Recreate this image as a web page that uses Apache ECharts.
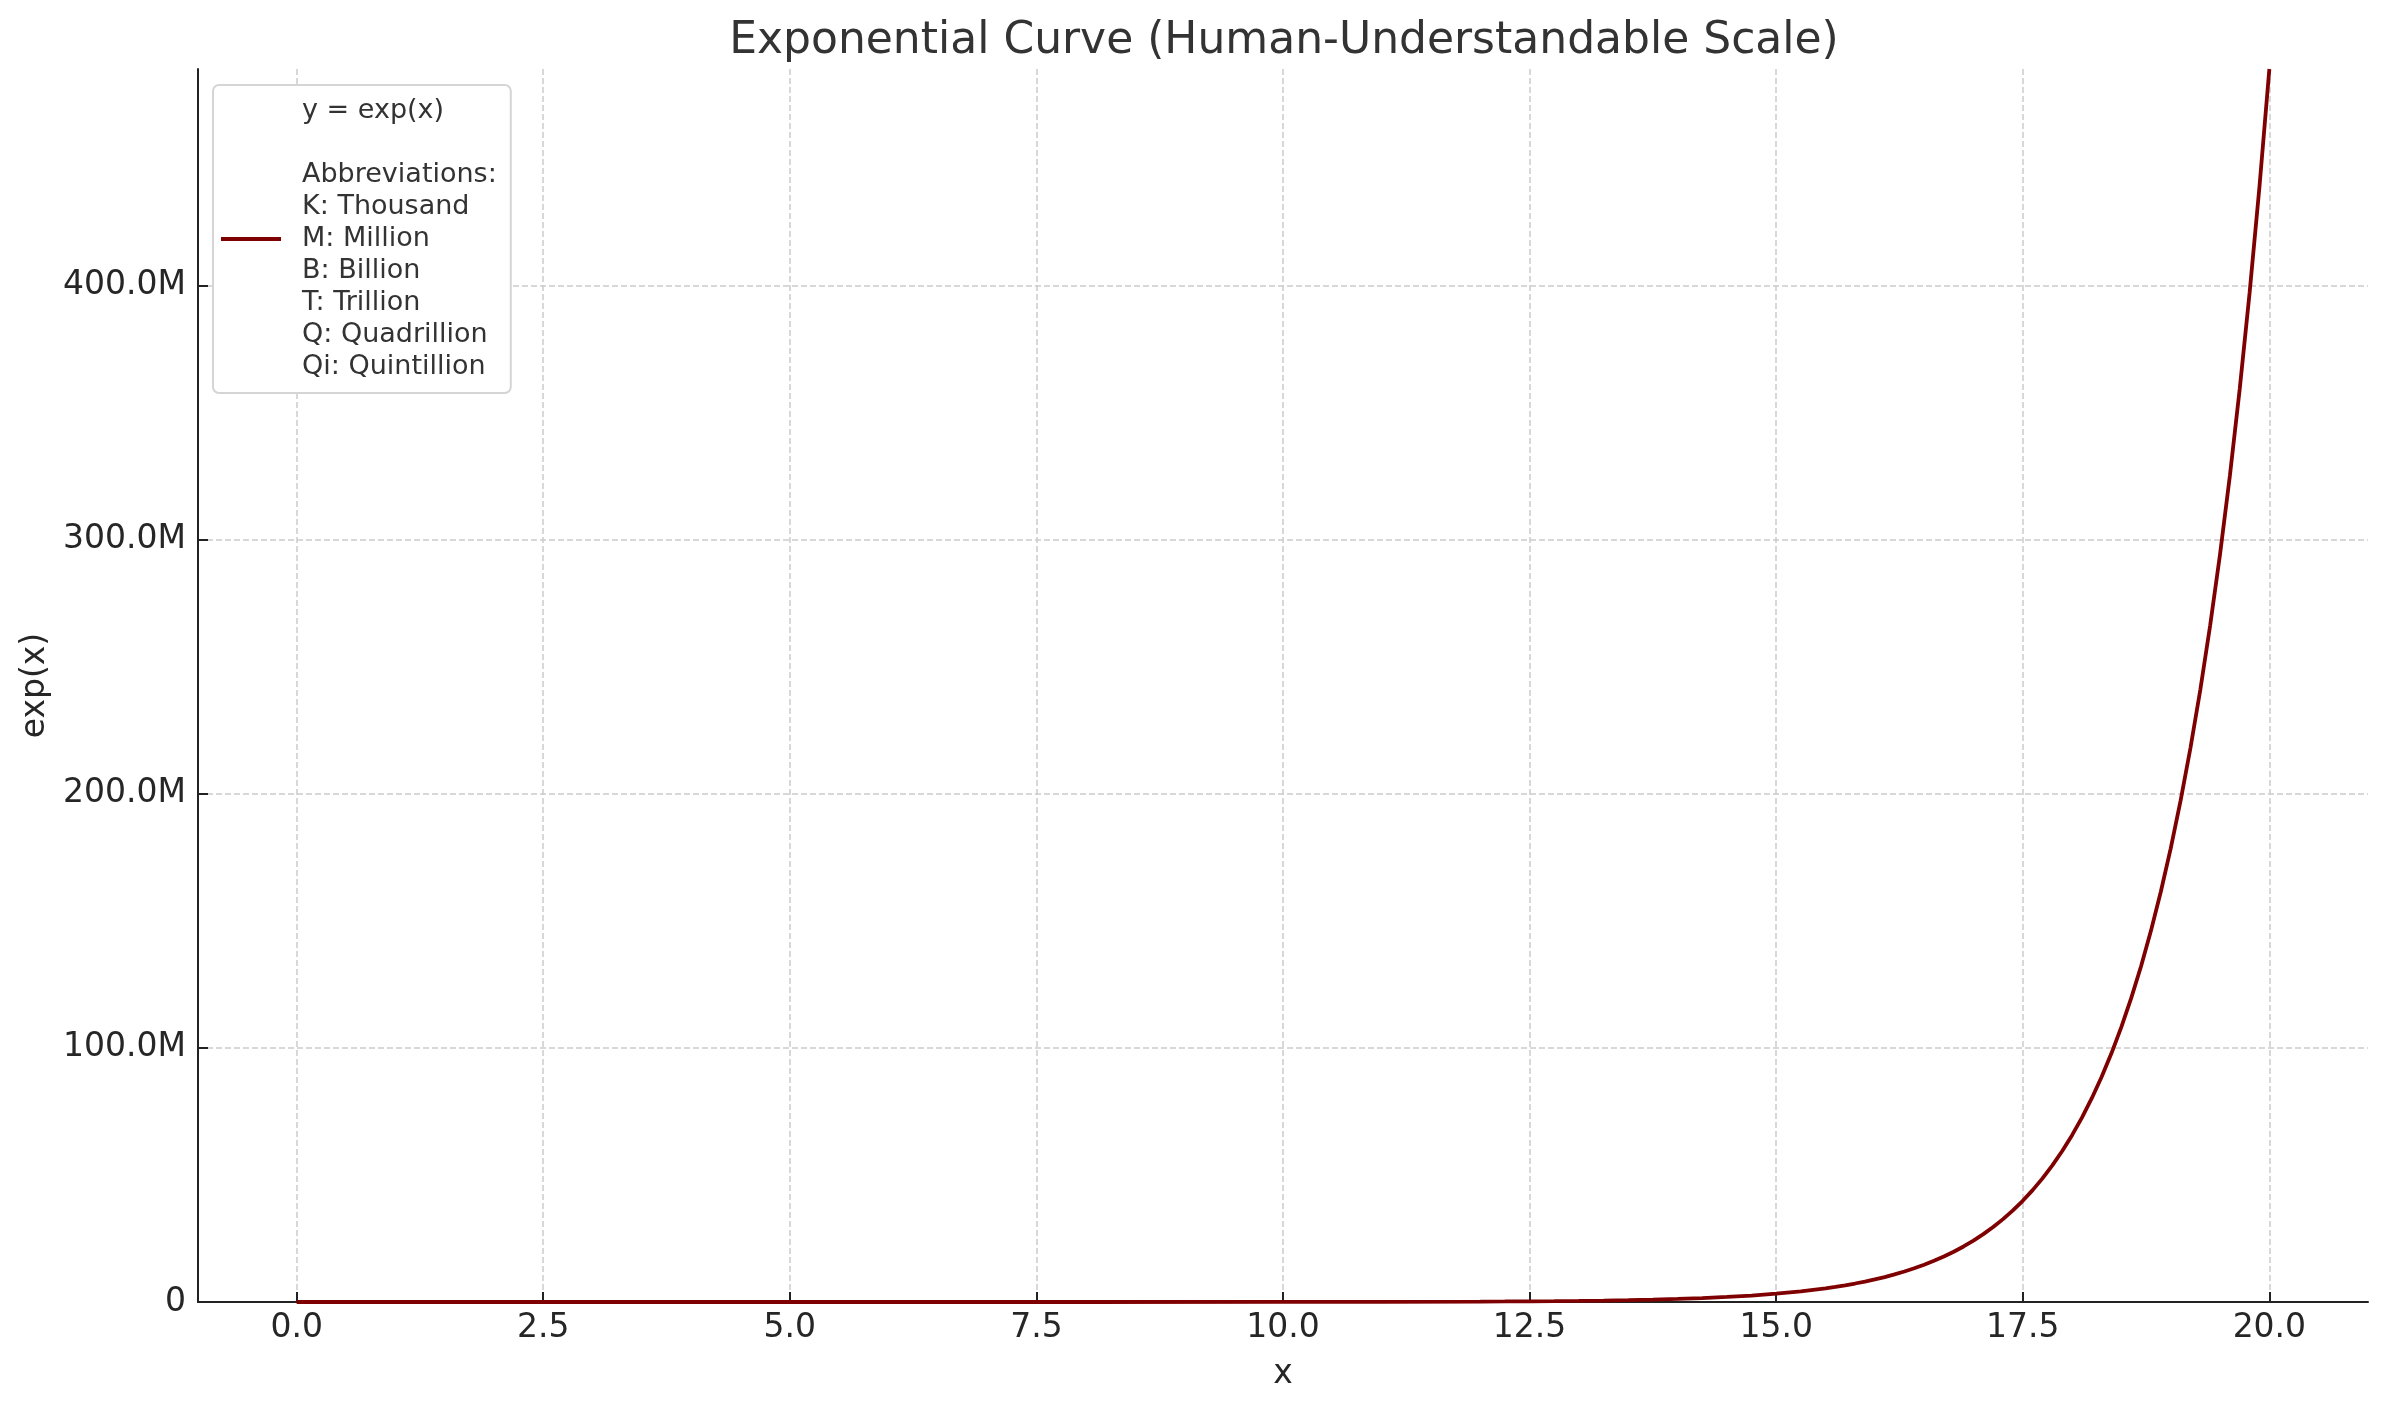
<!DOCTYPE html>
<html>
<head>
<meta charset="utf-8">
<script src="https://cdn.jsdelivr.net/npm/echarts@6/dist/echarts.min.js"></script>
<style>
html,body{margin:0;padding:0;background:#fff;}
#chart{width:2388px;height:1409px;}
</style>
</head>
<body>
<div id="chart"></div>
<script>
// x values and exp(x) in millions
const xValues = [0, 2, 4, 6, 8, 10, 11, 12, 12.25, 12.5, 12.75, 13, 13.25, 13.5, 13.75, 14, 14.25, 14.5, 14.75, 15, 15.25,
  15.5, 15.6, 15.7, 15.8, 15.9, 16.0, 16.1, 16.2, 16.3, 16.4, 16.5, 16.6, 16.7, 16.8, 16.9,
  17.0, 17.1, 17.2, 17.3, 17.4, 17.5, 17.6, 17.7, 17.8, 17.9,
  18.0, 18.1, 18.2, 18.3, 18.4, 18.5, 18.6, 18.7, 18.8, 18.9,
  19.0, 19.1, 19.2, 19.3, 19.4, 19.5, 19.6, 19.7, 19.8, 19.9, 20.0];
const yMillions = [0.000001, 0.0000074, 0.0000546, 0.000403, 0.00298, 0.0220, 0.0599, 0.16275, 0.20898, 0.26834, 0.34455, 0.44241, 0.56807, 0.72940, 0.93659, 1.20260, 1.54417, 1.98276, 2.54591, 3.26902, 4.19750,
  5.38970, 5.95654, 6.58297, 7.27527, 8.04059, 8.88611, 9.82060, 10.85352, 11.99494, 13.25660, 14.65072, 16.19171, 17.89441, 19.77676, 21.85681,
  24.15495, 26.69544, 29.50288, 32.60579, 36.03568, 39.82522, 44.01494, 48.64359, 53.76082, 59.41366,
  65.65997, 72.56527, 80.19759, 88.63224, 97.95648, 108.25853, 119.64641, 132.22954, 146.13858, 161.51062,
  178.48230, 197.25580, 217.99990, 240.92820, 266.26830, 294.26900, 325.22300, 359.42380, 397.22450, 438.99610, 485.16520];
const xTicks = [0, 2.5, 5, 7.5, 10, 12.5, 15, 17.5, 20];
const yTicks = [0, 100, 200, 300, 400];
const seriesLabel = 'y = exp(x)\n\nAbbreviations:\nK: Thousand\nM: Million\nB: Billion\nT: Trillion\nQ: Quadrillion\nQi: Quintillion';
const titleText = 'Exponential Curve (Human-Understandable Scale)';

const FONT = 'DejaVu Sans';
const chart = echarts.init(document.getElementById('chart'), null, {renderer: 'canvas'});
const gridLine = {show: true, lineStyle: {color: '#cccccc', width: 1.5, type: [6, 3]}};

chart.setOption({
  animation: false,
  backgroundColor: '#ffffff',
  title: {
    text: titleText,
    left: 1284,
    top: 20,
    textAlign: 'center',
    padding: 0,
    textStyle: {fontFamily: FONT, fontSize: 44, fontWeight: 'normal', color: '#333333'}
  },
  legend: {
    left: 213,
    top: 85,
    orient: 'vertical',
    padding: [10, 14, 10, 8],
    backgroundColor: '#ffffff',
    borderColor: '#d5d5d5',
    borderWidth: 2,
    borderRadius: 6,
    icon: 'rect',
    itemWidth: 60,
    itemHeight: 4,
    textStyle: {fontFamily: FONT, fontSize: 27, color: '#333333', lineHeight: 32, padding: [0, 0, 0, 16]},
    data: [seriesLabel]
  },
  grid: {left: 198, right: 20, top: 69, bottom: 107, containLabel: false},
  xAxis: {
    type: 'value',
    min: -1,
    max: 21,
    name: 'x',
    nameLocation: 'middle',
    nameGap: 56,
    nameTextStyle: {fontFamily: FONT, fontSize: 33, color: '#262626'},
    axisLine: {show: true, onZero: false, lineStyle: {color: '#222222', width: 2}},
    axisTick: {show: true, inside: true, length: 10, lineStyle: {color: '#222222', width: 2}, customValues: xTicks},
    axisLabel: {fontFamily: FONT, fontSize: 33, color: '#262626', margin: 10, customValues: xTicks,
      formatter: v => v.toFixed(1)},
    splitLine: gridLine
  },
  yAxis: {
    type: 'value',
    min: 0,
    max: yMillions[yMillions.length - 1],
    name: 'exp(x)',
    nameLocation: 'middle',
    nameGap: 135,
    nameTextStyle: {fontFamily: FONT, fontSize: 33, color: '#262626'},
    axisLine: {show: true, onZero: false, lineStyle: {color: '#222222', width: 2}},
    axisTick: {show: true, inside: true, length: 10, lineStyle: {color: '#222222', width: 2}, customValues: yTicks},
    axisLabel: {fontFamily: FONT, fontSize: 33, color: '#262626', margin: 12, customValues: yTicks,
      formatter: v => v === 0 ? '0' : v.toFixed(1) + 'M'},
    splitLine: gridLine
  },
  series: [{
    name: seriesLabel,
    type: 'line',
    data: xValues.map((x, i) => [x, yMillions[i]]),
    symbol: 'none',
    showSymbol: false,
    clip: true,
    lineStyle: {color: '#7f0000', width: 3.8},
    itemStyle: {color: '#7f0000'},
    z: 3
  }]
});
</script>
</body>
</html>
